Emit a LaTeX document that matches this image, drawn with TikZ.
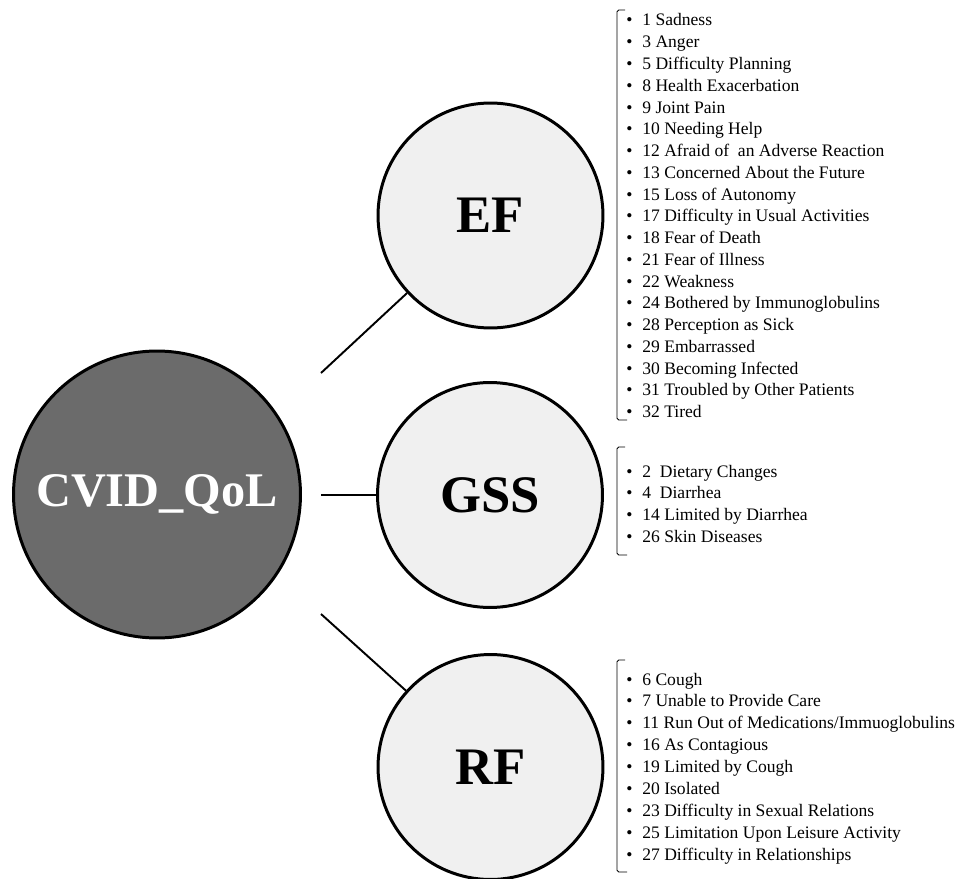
\documentclass[tikz,border=0pt]{standalone}
\usepackage{fontspec}
\setmainfont{Liberation Serif}
\usepackage{tikz}
\definecolor{QolGray}{HTML}{6B6B6B}
\definecolor{FactorFill}{HTML}{F0F0F0}

\begin{document}
\begin{tikzpicture}[x=0.02cm,y=-0.02cm,
  factor/.style={circle,draw,line width=1.7pt,fill=FactorFill,minimum size=4.5cm,inner sep=0pt,
    font=\fontsize{30}{36}\selectfont\bfseries},
  link/.style={line width=1.1pt},
  brk/.style={line width=0.5pt,rounded corners=1pt},
  item/.style={inner sep=0pt,anchor=base west,font=\fontsize{10}{12}\selectfont}]
\useasboundingbox (0,0) rectangle (957,879);

\node[circle,draw,line width=1.7pt,fill=QolGray,minimum size=5.74cm,inner sep=0pt,
  text=white,font=\fontsize{27.5}{33}\selectfont\bfseries] (qol) at (157,494.5) {CVID\_QoL};

\node[factor] (ef) at (490.5,215.5) {EF};
\node[factor] (gss) at (490,495) {GSS};
\node[factor] (rf) at (490.5,767) {RF};

\coordinate (efstub) at (321,373);
\coordinate (gssstub) at (321,495);
\coordinate (rfstub) at (321,614);
\draw[link] (efstub) -- (ef);
\draw[link] (gssstub) -- (gss);
\draw[link] (rfstub) -- (rf);

\draw[brk] (625,10) -- (617,10) -- (617,420) -- (627,420);
\foreach \lab [count=\i] in {1 Sadness,3 Anger,5 Difficulty Planning,8 Health Exacerbation,
  9 Joint Pain,10 Needing Help,12 Afraid of\ \ an Adverse Reaction,13 Concerned About the Future,
  15 Loss of Autonomy,17 Difficulty in Usual Activities,18 Fear of Death,21 Fear of Illness,
  22 Weakness,24 Bothered by Immunoglobulins,28 Perception as Sick,29 Embarrassed,
  30 Becoming Infected,31 Troubled by Other Patients,32 Tired} {
  \node[item] (ef-\i) at (626,{26+(\i-1)*21.75}) {\makebox[0.32cm][l]{\textbullet}\lab};
}

\draw[brk] (625,447) -- (617,447) -- (617,555) -- (627,555);
\foreach \lab [count=\i] in {2\ \ Dietary Changes,4\ \ Diarrhea,14 Limited by Diarrhea,26 Skin Diseases} {
  \node[item] (gss-\i) at (626,{477+(\i-1)*21.7}) {\makebox[0.32cm][l]{\textbullet}\lab};
}

\draw[brk] (625,660) -- (617,660) -- (617,872) -- (627,872);
\foreach \lab [count=\i] in {6 Cough,7 Unable to Provide Care,11 Run Out of Medications/Immuoglobulins,
  16 As Contagious,19 Limited by Cough,20 Isolated,23 Difficulty in Sexual Relations,
  25 Limitation Upon Leisure Activity,27 Difficulty in Relationships} {
  \node[item] (rf-\i) at (626,{685+(\i-1)*21.9}) {\makebox[0.32cm][l]{\textbullet}\lab};
}
\end{tikzpicture}
\end{document}
